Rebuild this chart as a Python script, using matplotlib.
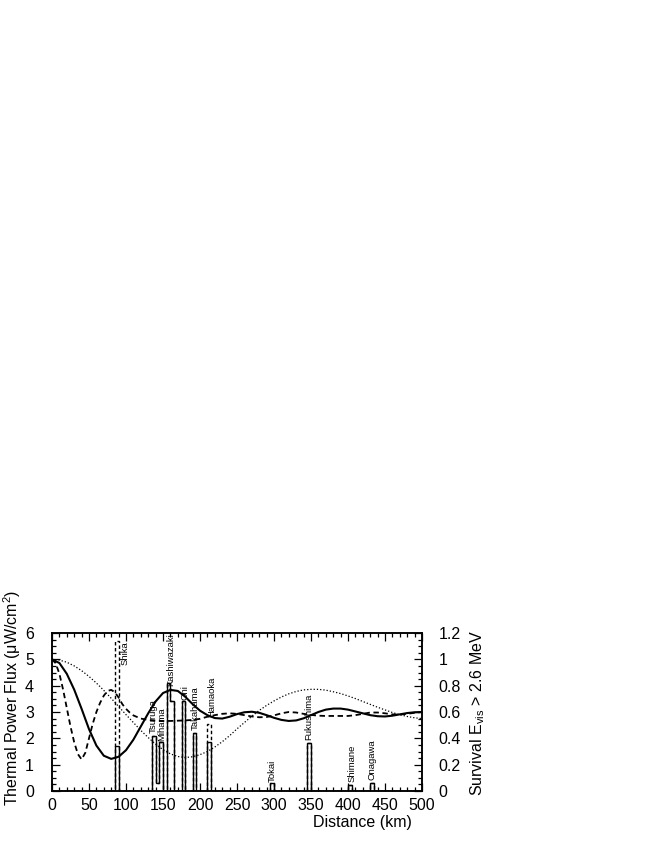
import matplotlib
matplotlib.use('Agg')
import matplotlib.pyplot as plt
import numpy as np
from matplotlib.ticker import MultipleLocator, FuncFormatter

plt.rcParams['font.family'] = ['Liberation Sans', 'DejaVu Sans']
plt.rcParams['mathtext.default'] = 'regular'

# ---------------- data ----------------
# reactor flux histogram (5 km bins, bin start in km)
bin_start = [85, 135, 140, 145, 155, 160, 175, 190, 210, 295, 345, 400, 430]
flux_now = [1.71, 2.10, 0.30, 1.85, 4.12, 3.43, 3.40, 2.19, 1.85, 0.32, 1.81, 0.22, 0.29]
flux_full = [5.71, 2.10, 0.30, 1.85, 4.12, 3.43, 3.40, 2.19, 2.53, 0.32, 1.81, 0.22, 0.29]
bin_width = 5

reactor_names = ['Shika', 'Tsuruga', 'Mihama', 'Kashiwazaki', 'Ohi', 'Takahama',
                 'Hamaoka', 'Tokai', 'Fukushima', 'Shimane', 'Onagawa']
label_x = [98.5, 137.5, 148, 161, 180, 193, 215.5, 297, 347.5, 405, 432.5]
label_y = [4.8, 2.2, 1.9, 3.97, 3.45, 2.32, 2.82, 0.35, 1.94, 0.35, 0.42]

# survival probability curves (right axis)
solid_km = [0, 10, 20, 30, 40, 50, 60, 70, 80, 90, 100, 110, 120, 130, 140, 150, 160, 170,
            180, 190, 200, 210, 220, 230, 240, 250, 260, 270, 280, 290, 300, 310, 320, 330,
            340, 350, 360, 370, 380, 390, 400, 410, 420, 430, 440, 450, 460, 470, 480, 490, 500]
solid_surv = [1.000, 0.972, 0.890, 0.770, 0.624, 0.470, 0.345, 0.268, 0.244, 0.260, 0.310,
              0.390, 0.490, 0.590, 0.680, 0.744, 0.768, 0.760, 0.716, 0.660, 0.610, 0.576,
              0.554, 0.550, 0.564, 0.584, 0.598, 0.602, 0.594, 0.576, 0.556, 0.540, 0.532,
              0.536, 0.552, 0.576, 0.600, 0.618, 0.626, 0.626, 0.618, 0.604, 0.590, 0.576,
              0.568, 0.566, 0.572, 0.582, 0.592, 0.598, 0.600]

dashed_km = [0, 5, 10, 15, 20, 25, 30, 35, 40, 45, 50, 55, 60, 65, 70, 75, 80, 85, 90, 95,
             100, 105, 110, 120, 130, 140, 150, 160, 170, 180, 190, 200, 210, 220, 230, 240,
             250, 260, 270, 280, 290, 300, 310, 320, 330, 340, 350, 360, 370, 380, 390, 400,
             410, 420, 430, 440, 450, 460, 470, 480, 490, 500]
dashed_surv = [1.000, 0.970, 0.890, 0.770, 0.630, 0.490, 0.370, 0.280, 0.240, 0.290, 0.400,
               0.510, 0.600, 0.670, 0.724, 0.760, 0.768, 0.750, 0.710, 0.660, 0.624, 0.596,
               0.574, 0.550, 0.540, 0.534, 0.532, 0.532, 0.534, 0.536, 0.540, 0.548, 0.564,
               0.576, 0.586, 0.590, 0.586, 0.576, 0.566, 0.560, 0.562, 0.574, 0.590, 0.600,
               0.596, 0.586, 0.578, 0.572, 0.570, 0.570, 0.570, 0.570, 0.576, 0.586, 0.596,
               0.596, 0.590, 0.582, 0.580, 0.586, 0.594, 0.600]

dotted_km = solid_km
dotted_surv = [1.000, 0.994, 0.978, 0.950, 0.914, 0.870, 0.820, 0.764, 0.704, 0.642, 0.580,
               0.520, 0.460, 0.406, 0.356, 0.314, 0.282, 0.262, 0.254, 0.260, 0.276, 0.300,
               0.334, 0.374, 0.420, 0.472, 0.520, 0.568, 0.612, 0.650, 0.684, 0.714, 0.738,
               0.756, 0.768, 0.772, 0.772, 0.766, 0.754, 0.740, 0.722, 0.702, 0.680, 0.658,
               0.636, 0.616, 0.596, 0.580, 0.566, 0.556, 0.550]

x_ticks = [0, 50, 100, 150, 200, 250, 300, 350, 400, 450, 500]
left_ticks = [0, 1, 2, 3, 4, 5, 6]
right_ticks = [0, 0.2, 0.4, 0.6, 0.8, 1.0, 1.2]

# ---------------- figure ----------------
W, H = 654, 846
fig = plt.figure(figsize=(W / 100, H / 100), dpi=100)
ax = fig.add_axes([52 / W, 55 / H, 370 / W, 158 / H])
ax2 = ax.twinx()

ax.set_xlim(0, 500)
ax.set_ylim(0, 6)
ax2.set_ylim(0, 1.2)

# histogram on a 5 km grid
edges = np.arange(0, 500 + bin_width, bin_width)
vals_now = np.zeros(len(edges) - 1)
vals_full = np.zeros(len(edges) - 1)
for s, vn, vf in zip(bin_start, flux_now, flux_full):
    i = int(round(s / bin_width))
    vals_now[i] = vn
    vals_full[i] = vf

ax.stairs(vals_full, edges, baseline=0, color='black', lw=1.0, linestyle=(0, (2.5, 1.8)), zorder=2)
ax.stairs(vals_now, edges, baseline=0, color='black', lw=1.0, zorder=3)

for name, lx, ly in zip(reactor_names, label_x, label_y):
    ax.text(lx, ly, name, rotation=90, ha='center', va='bottom', fontsize=6.8, zorder=5)

# survival curves
ax2.plot(dotted_km, dotted_surv, color='black', lw=0.9, linestyle=(0, (1, 1.6)), zorder=4)
ax2.plot(dashed_km, dashed_surv, color='black', lw=1.3, linestyle=(0, (3, 2)), zorder=4)
ax2.plot(solid_km, solid_surv, color='black', lw=1.5, zorder=4)

# ticks
ax.set_xticks(x_ticks)
ax.set_yticks(left_ticks)
ax2.set_yticks(right_ticks)
ax.xaxis.set_minor_locator(MultipleLocator(10))
ax.yaxis.set_minor_locator(MultipleLocator(0.25))
ax2.yaxis.set_minor_locator(MultipleLocator(0.05))
fmt = FuncFormatter(lambda v, p: '%g' % round(v, 2))
ax.yaxis.set_major_formatter(fmt)
ax2.yaxis.set_major_formatter(fmt)

ax.tick_params(axis='x', which='both', direction='in', top=True, bottom=True, labelsize=11.5, pad=5)
ax.tick_params(axis='y', which='both', direction='in', left=True, right=False, labelsize=11.5, pad=13)
ax2.tick_params(axis='y', which='both', direction='in', right=True, labelsize=11.5, pad=12)
for a in (ax, ax2):
    a.tick_params(which='major', length=6, width=0.9)
    a.tick_params(which='minor', length=3, width=0.9)
    for sp in a.spines.values():
        sp.set_linewidth(1.1)

# axis titles
fig.text(12 / W, 1 - 698 / H, r'Thermal Power Flux ($\mu$W/cm$^2$)', rotation=90,
         ha='center', va='center', fontsize=11.5)
fig.text(478 / W, 1 - 713 / H, r'Survival E$_{vis}$ > 2.6 MeV', rotation=90,
         ha='center', va='center', fontsize=11.5)
fig.text(412 / W, 1 - 822 / H, 'Distance (km)', ha='right', va='center', fontsize=11.5)

fig.savefig('out.png', dpi=100)
